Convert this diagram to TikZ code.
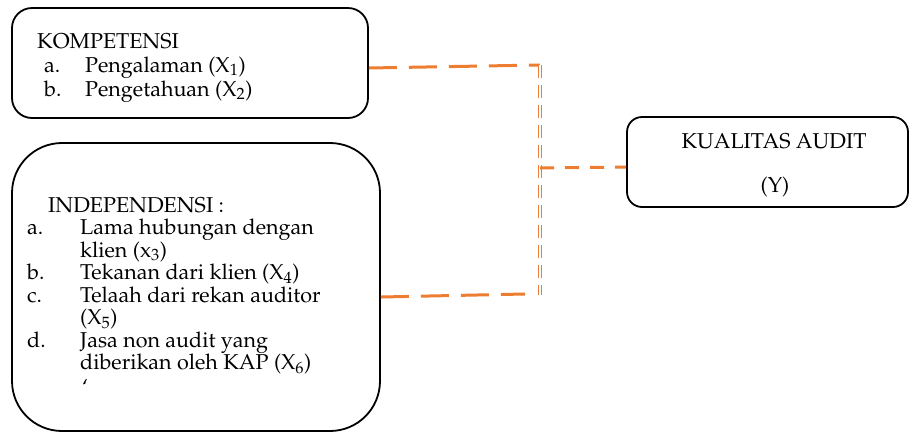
\documentclass[tikz,border=0pt]{standalone}
\usepackage[T1]{fontenc}
\usepackage{mathpazo}
\usepackage{xcolor}

\definecolor{oranye}{HTML}{ED7D31}

\begin{document}
\begin{tikzpicture}[x=1pt, y=-1pt,
        kotak/.style={draw, line width=1.8pt, rounded corners=#1},
        teks/.style={anchor=base west, inner sep=0pt, font=\fontsize{21.5}{23}\selectfont},
        judul/.style={anchor=base, inner sep=0pt, font=\fontsize{21.5}{23}\selectfont},
        garis/.style={draw=oranye, line width=3pt}
    ]
        \useasboundingbox (0,0) rectangle (912,432);

                % Boxes
                \node[kotak=20pt, minimum width=356pt, minimum height=110pt] (komp) at (190, 63) {};
                \node[kotak=50pt, minimum width=368pt, minimum height=288pt] (indep) at (196, 287) {};
                \node[kotak=15pt, minimum width=281pt, minimum height=90pt] (kual) at (767.5, 162) {};

                % Text of KOMPETENSI
                \node[teks] (k0) at (37, 48) {KOMPETENSI};
                \node[teks] (k1a) at (44, 72) {a.};
                \node[teks] (k1) at (85, 72) {Pengalaman (X\textsubscript{1})};
                \node[teks] (k2a) at (44, 96) {b.};
                \node[teks] (k2) at (85, 96) {Pengetahuan (X\textsubscript{2})};

                % Text of INDEPENDENSI
                \node[teks] (i0) at (48, 212) {INDEPENDENSI :};
                \node[teks] (i1a) at (27, 234.5) {a.};
                \node[teks] (i1) at (80, 234.5) {Lama hubungan dengan};
                \node[teks] (i1b) at (80, 257) {klien (x\textsubscript{3})};
                \node[teks] (i2a) at (27, 279.5) {b.};
                \node[teks] (i2) at (80, 279.5) {Tekanan dari klien (X\textsubscript{4})};
                \node[teks] (i3a) at (27, 302) {c.};
                \node[teks] (i3) at (80, 302) {Telaah dari rekan auditor};
                \node[teks] (i3b) at (80, 324.5) {(X\textsubscript{5})};
                \node[teks] (i4a) at (27, 347) {d.};
                \node[teks] (i4) at (80, 347) {Jasa non audit yang};
                \node[teks] (i4b) at (80, 369.5) {diberikan oleh KAP (X\textsubscript{6})};
                \node[teks] (i5) at (82, 394) {`};

                % Text of KUALITAS AUDIT
                \node[judul] (y0) at (774, 148) {KUALITAS AUDIT};
                \node[judul] (y1) at (775, 192) {(Y)};

                % Junctions
                \coordinate (jt) at (540, 65);
                \coordinate (jm) at (540, 168);
                \coordinate (jb) at (540, 295);
                \coordinate (jbl) at (525, 294);

                % Edges
                \draw[garis, dash pattern=on 28pt off 12pt] ([yshift=-5pt]komp.east) -- (jt);
                \draw[draw=oranye, line width=1.3pt, double, double distance=2pt, dash pattern=on 13pt off 7pt] (jt) -- (jb);
                \draw[garis, dash pattern=on 14pt off 11pt] (jm) -- ([yshift=-5pt]kual.west);
                \draw[garis, dash pattern=on 28pt off 12pt] ([yshift=-10pt]indep.east) -- (jbl);

            \end{tikzpicture}
\end{document}
